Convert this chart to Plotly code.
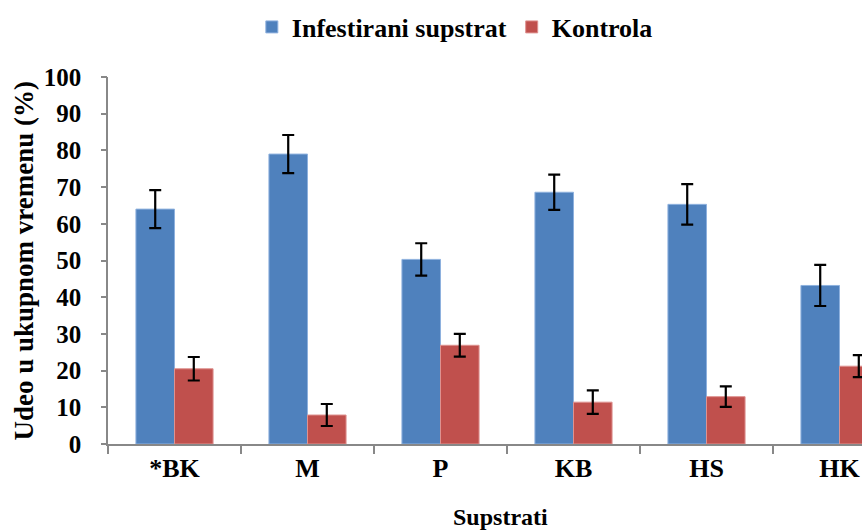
import plotly.graph_objects as go

categories = ["*BK", "M", "P", "KB", "HS", "HK"]
infestirani = [64.0, 79.0, 50.3, 68.6, 65.3, 43.2]
infestirani_err = [5.2, 5.2, 4.4, 4.8, 5.5, 5.6]
kontrola = [20.5, 7.9, 26.9, 11.4, 12.9, 21.2]
kontrola_err = [3.2, 3.0, 3.1, 3.2, 2.8, 3.0]

font_family = "Liberation Serif"

W, H = 862, 530
L, T, B = 108, 77, 86
plot_w = W - L
plot_h = H - T - B

fig = go.Figure()
fig.add_trace(go.Bar(
    name="<b>Infestirani supstrat</b>", x=categories, y=infestirani,
    marker=dict(color="#4F81BD", line=dict(color="#8EB1DE", width=1)),
    error_y=dict(type="data", array=infestirani_err, color="black", thickness=2.2, width=6),
))
fig.add_trace(go.Bar(
    name="<b>Kontrola</b>", x=categories, y=kontrola,
    marker=dict(color="#C0504D", line=dict(color="#DE9290", width=1)),
    error_y=dict(type="data", array=kontrola_err, color="black", thickness=2.2, width=6),
))
# invisible helper trace so the tick-mark axis (y2) is drawn
fig.add_trace(go.Scatter(
    x=categories, y=kontrola, yaxis="y2", mode="markers",
    marker=dict(opacity=0), showlegend=False, hoverinfo="skip",
))

fig.update_layout(
    width=W, height=H,
    margin=dict(l=L, r=0, t=T, b=B, autoexpand=False),
    paper_bgcolor="white", plot_bgcolor="white",
    barmode="group", bargap=0.42, bargroupgap=0,
    font=dict(family=font_family, size=20, color="black"),
    legend=dict(orientation="h", x=0.46, xanchor="center", y=1 + 50 / plot_h, yanchor="middle",
                font=dict(family=font_family, size=26, color="black"),
                itemwidth=30, tracegroupgap=0, traceorder="normal"),
    xaxis=dict(
        range=[-0.5, -0.5 + plot_w / 133.0],
        showline=True, linecolor="#888888", linewidth=1.5,
        ticks="outside", ticklen=8, tickcolor="#888888", tickwidth=1.5,
        tickson="boundaries", automargin=False,
        tickprefix="<b>", ticksuffix="</b>",
        tickfont=dict(family=font_family, size=26, color="black"),
        showgrid=False, fixedrange=True,
    ),
    yaxis=dict(
        range=[0, 100], dtick=10,
        showline=True, linecolor="#888888", linewidth=1.5,
        ticks="outside", ticklen=20, tickcolor="rgba(0,0,0,0)", tickwidth=1,
        automargin=False,
        tickprefix="<b>", ticksuffix="</b>",
        tickfont=dict(family=font_family, size=25, color="black"),
        showgrid=False, zeroline=False, fixedrange=True,
    ),
    yaxis2=dict(
        overlaying="y", side="left", range=[0, 100], dtick=10,
        showline=False, ticks="outside", ticklen=6, tickcolor="#888888", tickwidth=1.5,
        showticklabels=False, showgrid=False, zeroline=False, automargin=False,
        fixedrange=True,
    ),
    annotations=[
        dict(text="<b>Supstrati</b>", xref="paper", yref="paper",
             x=(500 - L) / plot_w, y=-(517 - (T + plot_h)) / plot_h,
             xanchor="center", yanchor="middle", showarrow=False,
             font=dict(family=font_family, size=24, color="black")),
        dict(text="<b>Udeo u ukupnom vremenu (%)</b>", xref="paper", yref="paper",
             x=(23 - L) / plot_w, y=0.5, textangle=-90,
             xanchor="center", yanchor="middle", showarrow=False,
             font=dict(family=font_family, size=27, color="black")),
    ],
)

fig.write_html(
    "out.html",
    config={"displayModeBar": False},
    post_script="document.body.style.margin='0';document.body.style.overflow='hidden';",
)
